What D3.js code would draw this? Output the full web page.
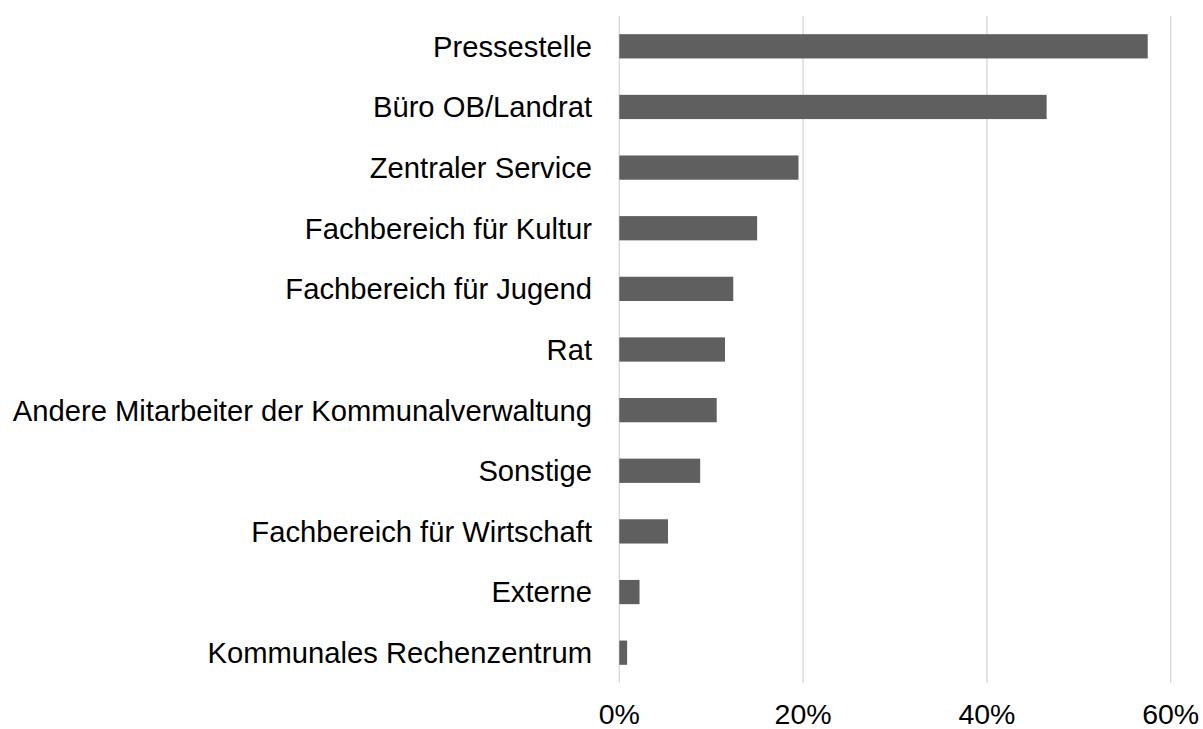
<!DOCTYPE html>
<html>
<head>
<meta charset="utf-8">
<script src="https://cdn.jsdelivr.net/npm/d3@7"></script>
<style>
  html, body { margin: 0; padding: 0; background: #ffffff; }
  svg { display: block; }
  text { font-family: "Liberation Sans", Arial, sans-serif; fill: #000000; }
</style>
</head>
<body>
<svg id="chart" width="1203" height="729"></svg>
<script>
const categories = [
  "Pressestelle",
  "Büro OB/Landrat",
  "Zentraler Service",
  "Fachbereich für Kultur",
  "Fachbereich für Jugend",
  "Rat",
  "Andere Mitarbeiter der Kommunalverwaltung",
  "Sonstige",
  "Fachbereich für Wirtschaft",
  "Externe",
  "Kommunales Rechenzentrum"
];
const values = [57.5, 46.5, 19.5, 15.0, 12.4, 11.5, 10.6, 8.8, 5.3, 2.2, 0.85];
const tickValues = [0, 20, 40, 60];
const tickLabels = ["0%", "20%", "40%", "60%"];

const svg = d3.select("#chart");
const x = d3.scaleLinear().domain([0, 60]).range([619.3, 1170.7]);
const y = d3.scaleBand().domain(categories).range([16, 683]).paddingInner(0.6).paddingOuter(0.3);

// gridlines
svg.append("g").selectAll("line").data(tickValues).join("line")
  .attr("x1", d => x(d)).attr("x2", d => x(d))
  .attr("y1", 16).attr("y2", 683)
  .attr("stroke", "#d9d9d9").attr("stroke-width", 1.4);

// bars
svg.append("g").selectAll("rect").data(values).join("rect")
  .attr("x", x(0))
  .attr("y", (d, i) => y(categories[i]))
  .attr("width", d => x(d) - x(0))
  .attr("height", y.bandwidth())
  .attr("fill", "#5f5f5f");

// category labels
svg.append("g").selectAll("text").data(categories).join("text")
  .attr("x", 592)
  .attr("y", d => y(d) + y.bandwidth() / 2)
  .attr("dy", "0.355em")
  .attr("text-anchor", "end")
  .style("font-size", "29.2px")
  .text(d => d);

// x tick labels
svg.append("g").selectAll("text").data(tickValues).join("text")
  .attr("x", d => x(d))
  .attr("y", 724)
  .attr("text-anchor", "middle")
  .style("font-size", "28.5px")
  .text((d, i) => tickLabels[i]);
</script>
</body>
</html>
